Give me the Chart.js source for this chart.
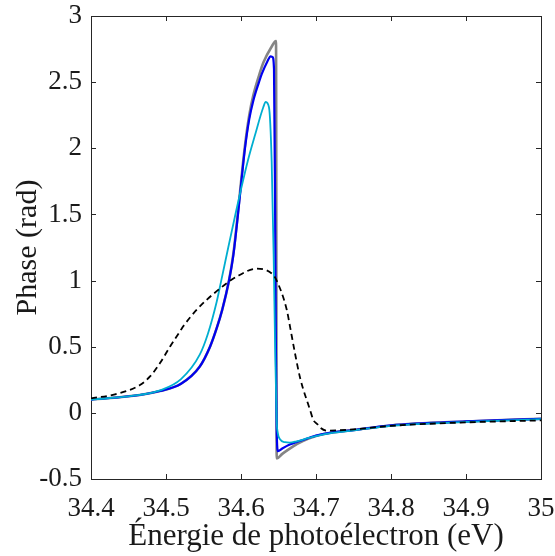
<!DOCTYPE html>
<html>
<head>
<meta charset="utf-8">
<script src="https://cdn.jsdelivr.net/npm/chart.js@4.4.1/dist/chart.umd.min.js"></script>
<style>
  html, body { margin: 0; padding: 0; background: #fff; }
  #wrap { width: 555px; height: 556px; position: relative; }
</style>
</head>
<body>
<div id="wrap"><canvas id="c" width="555" height="556"></canvas></div>
<script>
// ---- Data ----
const xTitle = 'Énergie de photoélectron (eV)';
const yTitle = 'Phase (rad)';
const xTickValues = [34.4, 34.5, 34.6, 34.7, 34.8, 34.9, 35];
const yTickValues = [-0.5, 0, 0.5, 1, 1.5, 2, 2.5, 3];

// Gray curve (reference / exact phase)
const grayX = [34.4, 34.465, 34.492, 34.52, 34.545, 34.5587, 34.5676, 34.575, 34.584, 34.59, 34.596, 34.6005, 34.6053, 34.611, 34.6164, 34.624, 34.63, 34.64, 34.6467, 34.6476, 34.655, 34.665, 34.675, 34.69, 34.7, 34.72, 34.75, 34.8, 34.9, 35];
const grayY = [0.10, 0.135, 0.165, 0.22, 0.35, 0.50, 0.64, 0.78, 1.0, 1.21, 1.52, 1.77, 2.02, 2.25, 2.40, 2.55, 2.65, 2.76, 2.81, -0.345, -0.31, -0.27, -0.235, -0.195, -0.175, -0.15, -0.13, -0.095, -0.065, -0.045];

// Blue curve
const blueX = [34.4, 34.465, 34.492, 34.52, 34.545, 34.5587, 34.5676, 34.575, 34.584, 34.59, 34.596, 34.6005, 34.6053, 34.611, 34.6164, 34.624, 34.6276, 34.635, 34.6396, 34.642, 34.644, 34.6455, 34.6465, 34.6475, 34.6493, 34.655, 34.665, 34.6743, 34.69, 34.7, 34.72, 34.75, 34.8, 34.9, 35];
const blueY = [0.10, 0.135, 0.165, 0.22, 0.35, 0.50, 0.64, 0.78, 1.0, 1.2, 1.5, 1.75, 2.0, 2.22, 2.36, 2.50, 2.56, 2.655, 2.695, 2.69, 2.60, 1.50, 0.50, -0.10, -0.29, -0.27, -0.24, -0.22, -0.19, -0.172, -0.15, -0.13, -0.095, -0.065, -0.045];

// Cyan curve
const cyanX = [34.4, 34.465, 34.492, 34.52, 34.545, 34.556, 34.5676, 34.5733, 34.583, 34.5933, 34.6, 34.6093, 34.6187, 34.6297, 34.633, 34.6373, 34.6409, 34.6435, 34.6455, 34.6475, 34.649, 34.652, 34.6587, 34.665, 34.6743, 34.69, 34.7, 34.72, 34.75, 34.8, 34.9, 35];
const cyanY = [0.10, 0.136, 0.17, 0.255, 0.44, 0.60, 0.84, 0.99, 1.25, 1.52, 1.69, 1.91, 2.10, 2.31, 2.35, 2.31, 1.90, 1.20, 0.50, -0.05, -0.15, -0.20, -0.222, -0.225, -0.215, -0.19, -0.175, -0.153, -0.133, -0.098, -0.068, -0.048];

// Black dashed curve
const dashX = [34.4, 34.432, 34.4653, 34.4787, 34.492, 34.5053, 34.5187, 34.523, 34.541, 34.5676, 34.5943, 34.6209, 34.6427, 34.6476, 34.661, 34.6653, 34.672, 34.679, 34.692, 34.6964, 34.7027, 34.7053, 34.7143, 34.75, 34.8, 34.9, 35];
const dashY = [0.11, 0.14, 0.21, 0.275, 0.376, 0.50, 0.616, 0.654, 0.78, 0.92, 1.03, 1.09, 1.045, 1.0, 0.78, 0.654, 0.45, 0.26, 0.023, -0.053, -0.09, -0.11, -0.134, -0.125, -0.098, -0.072, -0.057];

const toPoints = (xs, ys) => xs.map((v, i) => ({ x: v, y: ys[i] }));

const FONT = '"Liberation Serif", "Times New Roman", serif';
const TEXT = '#1a1a1a';
const AXIS = '#262626';

const boxPlugin = {
  id: 'boxTicks',
  beforeDatasetsDraw(chart) {
    const { ctx, chartArea: a, scales } = chart;
    const xs = scales.x, ys = scales.y;
    ctx.save();
    ctx.strokeStyle = AXIS;
    ctx.lineWidth = 1;
    ctx.strokeRect(Math.round(a.left) + 0.5, Math.round(a.top) + 0.5, Math.round(a.right - a.left), Math.round(a.bottom - a.top));
    const L = 5;
    ctx.beginPath();
    xTickValues.forEach(v => {
      const px = Math.round(xs.getPixelForValue(v)) + 0.5;
      ctx.moveTo(px, a.bottom); ctx.lineTo(px, a.bottom - L);
      ctx.moveTo(px, a.top); ctx.lineTo(px, a.top + L);
    });
    yTickValues.forEach(v => {
      const py = Math.round(ys.getPixelForValue(v)) + 0.5;
      ctx.moveTo(a.left, py); ctx.lineTo(a.left + L, py);
      ctx.moveTo(a.right, py); ctx.lineTo(a.right - L, py);
    });
    ctx.stroke();
    ctx.restore();
  }
};

new Chart(document.getElementById('c'), {
  type: 'line',
  data: {
    datasets: [
      { data: toPoints(dashX, dashY), borderColor: '#000000', borderWidth: 1.8, borderDash: [6, 4], order: 1 },
      { data: toPoints(cyanX, cyanY), borderColor: '#00aed0', borderWidth: 1.8, order: 2 },
      { data: toPoints(blueX, blueY), borderColor: '#0000f0', borderWidth: 2.2, order: 3 },
      { data: toPoints(grayX, grayY), borderColor: '#858585', borderWidth: 2.6, order: 4 }
    ]
  },
  options: {
    responsive: false,
    animation: false,
    devicePixelRatio: 1,
    elements: {
      point: { radius: 0 },
      line: { cubicInterpolationMode: 'monotone', fill: false, borderCapStyle: 'butt', borderJoinStyle: 'round' }
    },
    plugins: { legend: { display: false }, tooltip: { enabled: false } },
    layout: { padding: { top: 16, right: 14, left: 0, bottom: 0 } },
    scales: {
      x: {
        type: 'linear',
        min: 34.4, max: 35,
        afterBuildTicks: s => { s.ticks = xTickValues.map(v => ({ value: v })); },
        afterFit: s => { s.height = 77; s.paddingLeft = 0; s.paddingRight = 0; },
        grid: { display: false, drawTicks: false },
        border: { display: false },
        ticks: {
          padding: 14,
          autoSkip: false,
          maxRotation: 0,
          color: TEXT,
          font: { family: FONT, size: 27 },
          callback: v => String(Number(v.toFixed(1)))
        },
        title: {
          display: true, text: xTitle, color: TEXT,
          font: { family: FONT, size: 31 },
          padding: { top: 0, bottom: 1 }
        }
      },
      y: {
        type: 'linear',
        min: -0.5, max: 3,
        afterBuildTicks: s => { s.ticks = yTickValues.map(v => ({ value: v })); },
        afterFit: s => { s.width = 91; s.paddingTop = 0; s.paddingBottom = 0; },
        grid: { display: false, drawTicks: false },
        border: { display: false },
        ticks: {
          padding: 9,
          color: TEXT,
          font: { family: FONT, size: 27 },
          callback: v => String(Number(v.toFixed(1)))
        },
        title: {
          display: true, text: yTitle, color: TEXT,
          font: { family: FONT, size: 30 },
          padding: { top: 10, bottom: 0 }
        }
      }
    }
  },
  plugins: [boxPlugin]
});
</script>
</body>
</html>
